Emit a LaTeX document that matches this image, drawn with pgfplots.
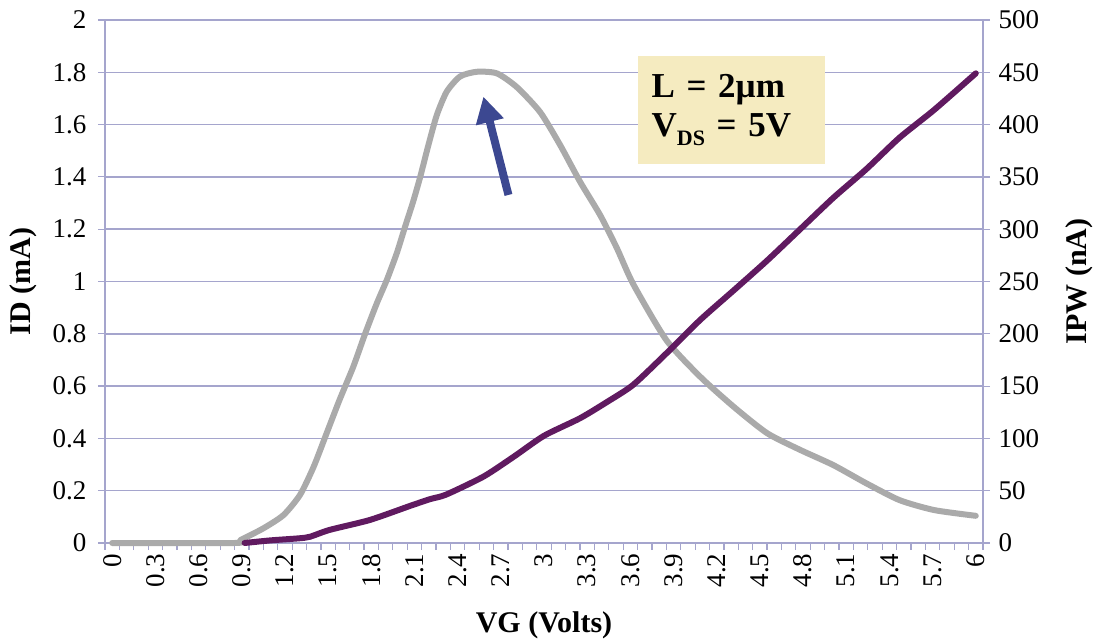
\documentclass[border=0pt]{standalone}
\usepackage{fontspec}
\setmainfont{Liberation Serif}
\usepackage{pgfplots}
\pgfplotsset{compat=1.18}
\usetikzlibrary{arrows.meta}

\definecolor{gridc}{RGB}{165,165,205}
\definecolor{ipwc}{RGB}{170,170,170}
\definecolor{idc}{RGB}{96,26,96}
\definecolor{arrowc}{RGB}{60,72,145}
\definecolor{boxc}{RGB}{245,235,192}

% IPW (nA) vs VG
\pgfplotstableread{
vg    ipw
0     0
0.85  0
0.89  2.7
1.05  14
1.19  26.7
1.305 46
1.40  73
1.49  105
1.58  137
1.675 168.5
1.757 200
1.838 229
1.908 251.5
1.977 277
2.035 302.5
2.09  326
2.14  350
2.197 380.5
2.255 409
2.324 431.5
2.417 446
2.533 450.5
2.672 449
2.81  436
2.973 412
3.112 380.5
3.25  345.5
3.39  313.5
3.506 282
3.62  247.5
3.85  194
4.085 159
4.32  130
4.55  105
4.78  89
5.01  74.5
5.24  57
5.47  41
5.71  31.5
6.0   26
}\ipwdata

% ID (mA) vs VG
\pgfplotstableread{
vg    id
0.92  0
1.1   0.01
1.3   0.018
1.375 0.024
1.51  0.05
1.79  0.088
2.07  0.142
2.21  0.168
2.32  0.185
2.58  0.254
2.79  0.33
3.0   0.41
3.25  0.477
3.44  0.54
3.62  0.605
3.85  0.725
4.085 0.853
4.32  0.967
4.55  1.08
4.78  1.20
5.01  1.32
5.24  1.43
5.47  1.55
5.71  1.656
6.0   1.796
}\iddata

\begin{document}
\begin{tikzpicture}
\path[use as bounding box] (-105pt,-97pt) rectangle (990pt,543pt);
\pgfplotsset{every axis/.append style={
  scale only axis, width=878pt, height=523pt,
  xmin=-0.05, xmax=6.05, clip=false,
  /pgf/number format/assume math mode=true,
  tick label style={font=\fontsize{27}{27}\selectfont},
  label style={font=\fontsize{30}{30}\selectfont\bfseries},
  axis line style={gridc, line width=1.5pt},
  tick style={gridc, line width=1.2pt},
  tick align=outside,
  major tick length=7pt, minor tick length=7pt,
}}
\begin{axis}[
  axis y line*=right, axis x line*=bottom,
  ymin=0, ymax=500, ytick={0,50,...,500},
  ymajorgrids, grid style={gridc, line width=1.5pt},
  xtick={0,0.3,0.6,0.9,1.2,1.5,1.8,2.1,2.4,2.7,3,3.3,3.6,3.9,4.2,4.5,4.8,5.1,5.4,5.7,6},
  xticklabels={{0},{0.3},{0.6},{0.9},{1.2},{1.5},{1.8},{2.1},{2.4},{2.7},{3},{3.3},{3.6},{3.9},{4.2},{4.5},{4.8},{5.1},{5.4},{5.7},{6}},
  major x tick style={draw=none},
  minor xtick={-0.05,0.05,...,6.06},
  x tick label style={rotate=90, anchor=east},
  yticklabel style={xshift=5pt},
  xlabel={VG (Volts)},
  xlabel style={at={(axis description cs:0.5,-0.157)}, anchor=center},
  ylabel={IPW (nA)},
  ylabel style={at={(axis description cs:1.110,0.5)}, anchor=center},
]
\addplot[ipwc, line width=6pt, smooth, tension=0.4, line join=round, line cap=round] table[x=vg, y=ipw] {\ipwdata};
\end{axis}
\begin{axis}[
  axis y line*=left, axis x line=none,
  ymin=0, ymax=2,
  ytick={0,0.2,0.4,0.6,0.8,1,1.2,1.4,1.6,1.8,2},
  yticklabels={0,0.2,0.4,0.6,0.8,1,1.2,1.4,1.6,1.8,2},
  yticklabel style={xshift=-8pt},
  ylabel={ID (mA)},
  ylabel style={at={(axis description cs:-0.0934,0.5)}, anchor=center},
]
\addplot[idc, line width=6pt, smooth, tension=0.4, line join=round, line cap=round] table[x=vg, y=id] {\iddata};
\draw[arrowc, line width=8pt, -{Triangle[width=27pt,length=26pt]}]
  (axis cs:2.753,1.331) -- (axis cs:2.579,1.707);
\node[fill=boxc, minimum width=187pt, minimum height=108pt, inner xsep=14pt,
      align=left, text width=159pt, font=\fontsize{35}{39}\selectfont\bfseries]
  at (axis cs:4.30,1.656)
  {L = 2µm\\V\raisebox{-0.28em}{\fontsize{22}{22}\selectfont DS} = 5V};
\end{axis}
\end{tikzpicture}
\end{document}
